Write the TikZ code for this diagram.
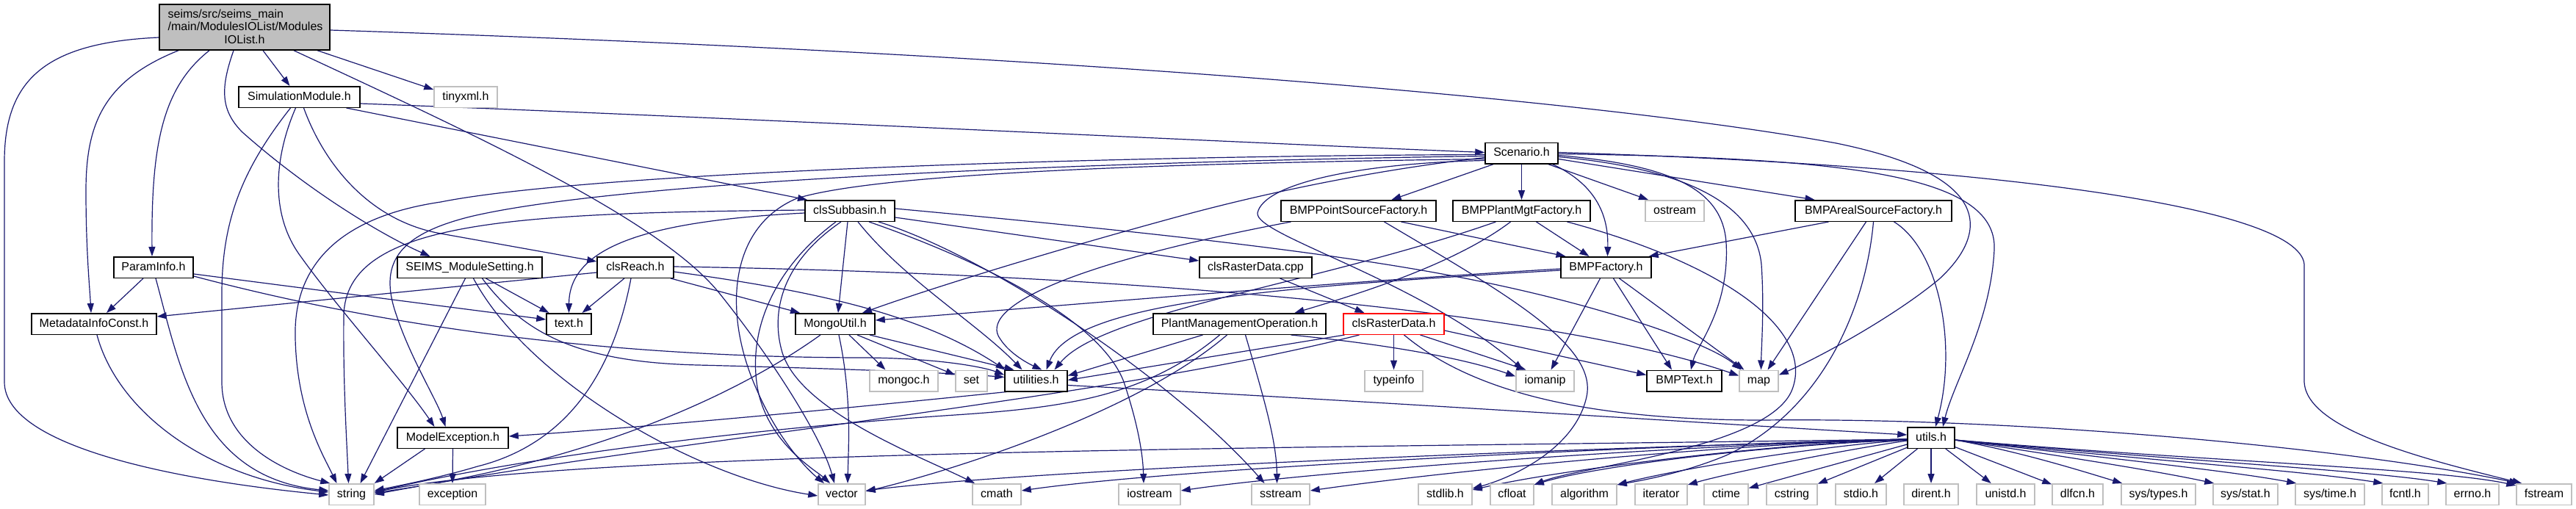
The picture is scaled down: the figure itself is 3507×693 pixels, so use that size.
\documentclass[tikz,border=0pt]{standalone}
\usepackage{fontspec}
\setmainfont{Liberation Sans}
\usetikzlibrary{arrows.meta,backgrounds}
\definecolor{eblue}{HTML}{191970}
\definecolor{gbord}{HTML}{BFBFBF}
\definecolor{mgrey}{HTML}{BFBFBF}
\newcommand\nodefont{\fontsize{16}{19}\selectfont}
\tikzset{
  nbox/.style={rectangle, draw=black, fill=white, line width=1.5pt, inner sep=0pt, minimum height=28.5pt, font=\nodefont, text height=11.5pt, text depth=3.5pt, text=black},
  sbox/.style={nbox, draw=gbord},
  rbox/.style={nbox, draw=red},
  mtext/.style={inner sep=0pt, font=\nodefont, text=black},
  edg/.style={draw=eblue, line width=1.2pt, -{Triangle[length=13pt,width=9pt]}},
}
\begin{document}
\begin{tikzpicture}[x=1pt,y=-1pt]
\useasboundingbox (0,0) rectangle (3507,693);
% ---------- nodes ----------
\node[nbox, fill=mgrey, minimum width=232pt, minimum height=62pt] (main) at (333,37) {};
\node[mtext, anchor=base west] (mainA) at (228.5,24.5) {seims/src/seims\_main};
\node[mtext, anchor=base west] (mainB) at (228.5,42) {/main/ModulesIOList/Modules};
\node[mtext, anchor=base] (mainC) at (333,59.5) {IOList.h};

\node[nbox, minimum width=165pt] (SimMod) at (407.5,132) {SimulationModule.h};
\node[sbox, minimum width=86pt] (tinyxml) at (634,132) {tinyxml.h};
\node[nbox, minimum width=99pt] (Scenario) at (2071.5,208.5) {Scenario.h};
\node[nbox, minimum width=122pt] (clsSubbasin) at (1157,287) {clsSubbasin.h};
\node[nbox, minimum width=211pt] (BMPPoint) at (1849.5,287) {BMPPointSourceFactory.h};
\node[nbox, minimum width=187pt] (BMPPlant) at (2071.5,287) {BMPPlantMgtFactory.h};
\node[sbox, minimum width=80pt] (ostream) at (2280,287) {ostream};
\node[nbox, minimum width=213pt] (BMPAreal) at (2550.5,287) {BMPArealSourceFactory.h};
\node[nbox, minimum width=108pt] (ParamInfo) at (209,364) {ParamInfo.h};
\node[nbox, minimum width=197pt] (SEIMS) at (639.5,364) {SEIMS\_ModuleSetting.h};
\node[nbox, minimum width=104pt] (clsReach) at (865,364) {clsReach.h};
\node[nbox, minimum width=153pt] (clsRasterCpp) at (1709.5,364) {clsRasterData.cpp};
\node[nbox, minimum width=123pt] (BMPFactory) at (2186.5,364) {BMPFactory.h};
\node[nbox, minimum width=170pt] (Metadata) at (128,441) {MetadataInfoConst.h};
\node[nbox, minimum width=61pt] (textH) at (774.5,441) {text.h};
\node[nbox, minimum width=108pt] (MongoUtil) at (1137,441) {MongoUtil.h};
\node[nbox, minimum width=235pt] (PMO) at (1687.5,441) {PlantManagementOperation.h};
\node[rbox, minimum width=137pt] (clsRasterH) at (1897.5,441) {clsRasterData.h};
\node[sbox, minimum width=93pt] (mongoc) at (1230.5,518.5) {mongoc.h};
\node[sbox, minimum width=43pt] (setH) at (1322.5,518.5) {set};
\node[nbox, minimum width=85pt] (utilities) at (1410.5,518.5) {utilities.h};
\node[sbox, minimum width=79pt] (typeinfo) at (1897.5,518.5) {typeinfo};
\node[sbox, minimum width=79pt] (iomanip) at (2103.5,518.5) {iomanip};
\node[nbox, minimum width=102pt] (BMPText) at (2293,518.5) {BMPText.h};
\node[sbox, minimum width=53pt] (mapH) at (2394.5,518.5) {map};
\node[nbox, minimum width=151pt] (ModelException) at (616.5,596) {ModelException.h};
\node[nbox, minimum width=64pt] (utils) at (2629,596) {utils.h};

\node[sbox, minimum width=61pt] (stringH) at (478.5,673) {string};
\node[sbox, minimum width=90pt] (exception) at (616,673) {exception};
\node[sbox, minimum width=64pt] (vectorH) at (1146,673) {vector};
\node[sbox, minimum width=66pt] (cmath) at (1357,673) {cmath};
\node[sbox, minimum width=84pt] (iostream) at (1565,673) {iostream};
\node[sbox, minimum width=79pt] (sstream) at (1743.5,673) {sstream};
\node[sbox, minimum width=73pt] (stdlib) at (1967.5,673) {stdlib.h};
\node[sbox, minimum width=59pt] (cfloat) at (2058.5,673) {cfloat};
\node[sbox, minimum width=88pt] (algorithm) at (2157,673) {algorithm};
\node[sbox, minimum width=71pt] (iterator) at (2261.5,673) {iterator};
\node[sbox, minimum width=60pt] (ctime) at (2350,673) {ctime};
\node[sbox, minimum width=69pt] (cstring) at (2439.5,673) {cstring};
\node[sbox, minimum width=69pt] (stdio) at (2533.5,673) {stdio.h};
\node[sbox, minimum width=74pt] (dirent) at (2629,673) {dirent.h};
\node[sbox, minimum width=79pt] (unistd) at (2730.5,673) {unistd.h};
\node[sbox, minimum width=69pt] (dlfcn) at (2828.5,673) {dlfcn.h};
\node[sbox, minimum width=101pt] (systypes) at (2938.5,673) {sys/types.h};
\node[sbox, minimum width=88pt] (sysstat) at (3057,673) {sys/stat.h};
\node[sbox, minimum width=94pt] (systime) at (3172,673) {sys/time.h};
\node[sbox, minimum width=63pt] (fcntl) at (3274.5,673) {fcntl.h};
\node[sbox, minimum width=72pt] (errno) at (3366,673) {errno.h};
\node[sbox, minimum width=75pt] (fstream) at (3463.5,673) {fstream};

% ---------- edges ----------
\begin{scope}[on background layer]
\fill[white] (0,0) rectangle (3507,693);
% main
\draw[edg] ([yshift=-14pt]main.west) .. controls (60,58) and (6,110) .. (6,220) -- (6,520) .. controls (6,610) and (250,655) .. ([yshift=-1pt]stringH.west);
\draw[edg] ([xshift=-90pt]main.south) .. controls (140,110) and (117,170) .. (117,260) .. controls (117,340) and (122,390) .. ([xshift=-4pt]Metadata.north);
\draw[edg] ([xshift=-48pt]main.south) .. controls (220,120) and (206,200) .. ([xshift=-2pt]ParamInfo.north);
\draw[edg] ([xshift=-15pt]main.south) .. controls (300,120) and (300,150) .. (330,180) .. controls (420,260) and (520,320) .. ([xshift=-54pt]SEIMS.north);
\draw[edg] ([xshift=25pt]main.south) -- ([xshift=-13pt]SimMod.north);
\draw[edg] ([xshift=67pt]main.south) .. controls (650,185) and (900,300) .. (980,400) .. controls (1060,500) and (1120,600) .. ([xshift=-10pt]vectorH.north);
\draw[edg] ([xshift=99pt]main.south) -- ([yshift=10pt]tinyxml.west);
\draw[edg] ([yshift=-4pt]main.east) .. controls (1500,75) and (2200,140) .. (2500,195) .. controls (2720,240) and (2705,320) .. (2640,380) .. controls (2580,430) and (2480,485) .. ([yshift=8pt]mapH.east);
% SimulationModule
\draw[edg] ([yshift=-9pt]SimMod.east) .. controls (1000,160) and (1700,195) .. ([yshift=1pt]Scenario.west);
\draw[edg] ([xshift=64pt]SimMod.south) -- ([xshift=-58pt]clsSubbasin.north);
\draw[edg] ([xshift=6pt]SimMod.south) .. controls (440,220) and (500,300) .. (600,318) -- ([yshift=8pt]clsReach.west);
\draw[edg] ([xshift=-5pt]SimMod.south) .. controls (375,210) and (365,290) .. (410,350) .. controls (460,420) and (550,520) .. ([xshift=-25pt]ModelException.north);
\draw[edg] ([xshift=-12pt]SimMod.south) .. controls (330,230) and (302,300) .. (302,400) -- (302,520) .. controls (302,600) and (380,640) .. ([xshift=2pt]stringH.north west);
% ParamInfo
\draw[edg] ([xshift=-14pt]ParamInfo.south) -- ([xshift=17pt]Metadata.north);
\draw[edg] ([xshift=3pt]ParamInfo.south) .. controls (245,500) and (270,650) .. ([yshift=5pt]stringH.west);
\draw[edg] ([yshift=-9pt]ParamInfo.east) -- ([yshift=6pt]textH.west);
\draw[edg] ([yshift=-12pt]ParamInfo.east) .. controls (580,460) and (900,487) .. (1180,487) .. controls (1280,488) and (1340,500) .. ([yshift=8pt]utilities.west);
% Metadata
\draw[edg] ([xshift=4pt]Metadata.south) .. controls (160,560) and (280,650) .. ([yshift=3pt]stringH.west);
% SEIMS
\draw[edg] ([xshift=22pt]SEIMS.south) -- ([xshift=-27pt]textH.north);
\draw[edg] ([xshift=-6pt]SEIMS.south) -- ([xshift=12pt]stringH.north);
\draw[edg] ([xshift=5pt]SEIMS.south) .. controls (720,520) and (950,650) .. ([yshift=-2pt]vectorH.west);
\draw[edg] ([xshift=17pt]SEIMS.south) .. controls (710,450) and (780,493) .. (950,497) .. controls (1150,502) and (1300,508) .. ([yshift=5pt]utilities.west);
% clsReach
\draw[edg] ([yshift=-7pt]clsReach.west) -- ([yshift=10pt]Metadata.east);
\draw[edg] ([xshift=-15pt]clsReach.south) -- ([xshift=18pt]textH.north);
\draw[edg] ([xshift=-6pt]clsReach.south) .. controls (840,480) and (790,600) .. (650,635) .. controls (600,650) and (540,662) .. ([yshift=5pt]stringH.east);
\draw[edg] ([xshift=48pt]clsReach.south) -- ([xshift=-48pt]MongoUtil.north);
\draw[edg] ([yshift=-6pt]clsReach.east) .. controls (1100,395) and (1250,425) .. ([xshift=-42pt]utilities.north);
\draw[edg] ([yshift=1pt]clsReach.east) .. controls (1500,372) and (2100,420) .. ([yshift=7pt]mapH.west);
% clsSubbasin
\draw[edg] ([yshift=-3pt]clsSubbasin.west) .. controls (900,300) and (775,330) .. (textH.north);
\draw[edg] ([yshift=1pt]clsSubbasin.west) .. controls (700,290) and (470,300) .. (468,430) .. controls (467,520) and (472,600) .. ([xshift=-4pt]stringH.north);
\draw[edg] ([xshift=-3pt]clsSubbasin.south) -- ([xshift=4pt]MongoUtil.north);
\draw[edg] ([xshift=-19pt]clsSubbasin.south) .. controls (1060,360) and (1020,440) .. (1030,520) .. controls (1040,600) and (1110,640) .. ([xshift=-16pt]vectorH.north);
\draw[edg] ([xshift=-12pt]clsSubbasin.south) .. controls (1060,360) and (1050,430) .. (1065,480) .. controls (1090,560) and (1250,620) .. ([xshift=-30pt]cmath.north);
\draw[edg] ([xshift=11pt]clsSubbasin.south) .. controls (1230,380) and (1330,440) .. ([xshift=-19pt]utilities.north);
\draw[edg] ([xshift=26pt]clsSubbasin.south) .. controls (1350,360) and (1500,440) .. (1530,520) .. controls (1550,580) and (1556,620) .. ([xshift=-8pt]iostream.north);
\draw[edg] ([xshift=39pt]clsSubbasin.south) .. controls (1350,350) and (1600,520) .. ([xshift=-22pt]sstream.north);
\draw[edg] ([yshift=-9pt]clsSubbasin.east) -- ([yshift=9pt]clsRasterCpp.west);
\draw[edg] ([yshift=3pt]clsSubbasin.east) .. controls (1500,310) and (1800,340) .. (2000,380) .. controls (2200,420) and (2330,470) .. ([xshift=-24pt]mapH.north);
% MongoUtil
\draw[edg] ([xshift=19pt]MongoUtil.south) -- ([xshift=-25pt]mongoc.north);
\draw[edg] ([xshift=30pt]MongoUtil.south) -- ([yshift=8pt]setH.west);
\draw[edg] ([xshift=47pt]MongoUtil.south) -- ([xshift=-30pt]utilities.north);
\draw[edg] ([xshift=-20pt]MongoUtil.south) .. controls (1000,540) and (800,630) .. ([yshift=2pt]stringH.east);
\draw[edg] ([xshift=5pt]MongoUtil.south) .. controls (1160,540) and (1155,610) .. ([xshift=8pt]vectorH.north);
% PlantManagementOperation
\draw[edg] ([xshift=-50pt]PMO.south) -- ([yshift=7pt]utilities.east);
\draw[edg] ([xshift=-27pt]PMO.south) .. controls (1560,540) and (1450,555) .. (1300,565) .. controls (1000,585) and (700,625) .. ([yshift=3pt]stringH.east);
\draw[edg] ([xshift=-17pt]PMO.south) .. controls (1550,560) and (1300,640) .. ([yshift=4pt]vectorH.east);
\draw[edg] ([xshift=8pt]PMO.south) .. controls (1720,540) and (1738,600) .. ([xshift=-5pt]sstream.north);
\draw[edg] ([xshift=70pt]PMO.south) .. controls (1900,470) and (2000,490) .. ([yshift=6pt]iomanip.west);
% clsRasterData.h
\draw[edg] (clsRasterH.south) -- (typeinfo.north);
\draw[edg] ([xshift=36pt]clsRasterH.south) -- ([xshift=-26pt]iomanip.north);
\draw[edg] ([xshift=-67pt]clsRasterH.south) -- ([yshift=1pt]utilities.east);
\draw[edg] ([xshift=-47pt]clsRasterH.south) .. controls (1500,545) and (900,600) .. (stringH.east);
\draw[edg] ([yshift=-9pt]clsRasterH.east) -- ([yshift=8pt]BMPText.west);
\draw[edg] ([xshift=14pt]clsRasterH.south) .. controls (2000,530) and (2150,572) .. (2400,572) .. controls (2750,568) and (3200,610) .. ([xshift=4pt]fstream.north west);
% clsRasterData.cpp
\draw[edg] ([xshift=33pt]clsRasterCpp.south) -- ([xshift=-40pt]clsRasterH.north);
% BMPPointSourceFactory
\draw[edg] ([xshift=58pt]BMPPoint.south) -- ([xshift=-55pt]BMPFactory.north);
\draw[edg] ([xshift=-92pt]BMPPoint.south) .. controls (1450,360) and (1330,420) .. (1362,462) .. controls (1375,482) and (1400,495) .. ([xshift=8pt]utilities.north);
\draw[edg] ([xshift=35pt]BMPPoint.south) .. controls (2050,400) and (2175,470) .. (2160,540) .. controls (2145,610) and (2060,650) .. ([yshift=8pt]stdlib.east);
% BMPPlantMgtFactory
\draw[edg] ([xshift=20pt]BMPPlant.south) -- ([xshift=-23pt]BMPFactory.north);
\draw[edg] ([xshift=-35pt]BMPPlant.south) .. controls (1800,385) and (1500,425) .. ([xshift=25pt]utilities.north);
\draw[edg] ([xshift=-15pt]BMPPlant.south) .. controls (1980,360) and (1850,400) .. ([xshift=75pt]PMO.north);
\draw[edg] ([xshift=62pt]BMPPlant.south) .. controls (2350,360) and (2470,450) .. (2440,530) .. controls (2410,610) and (2150,635) .. ([yshift=-2pt]cfloat.north east);
% BMPArealSourceFactory
\draw[edg] ([xshift=-61pt]BMPAreal.south) -- ([xshift=-4pt]BMPFactory.north east);
\draw[edg] ([xshift=-10pt]BMPAreal.south) -- ([xshift=12pt]mapH.north);
\draw[edg] (BMPAreal.south) .. controls (2540,420) and (2480,560) .. (2350,620) .. controls (2290,645) and (2230,655) .. ([yshift=-2pt]algorithm.north east);
\draw[edg] ([xshift=28pt]BMPAreal.south) .. controls (2640,340) and (2665,470) .. ([xshift=6pt]utils.north);
% Scenario
\draw[edg] ([xshift=-38pt]Scenario.south) -- ([xshift=45pt]BMPPoint.north);
\draw[edg] (Scenario.south) -- (BMPPlant.north);
\draw[edg] ([xshift=36pt]Scenario.south) -- ([xshift=-36pt]ostream.north);
\draw[edg] ([xshift=42pt]Scenario.south) .. controls (2170,250) and (2190,290) .. ([xshift=2pt]BMPFactory.north);
\draw[edg] ([yshift=-8pt]Scenario.east) -- ([xshift=-80pt]BMPAreal.north);
\draw[edg] ([yshift=-5pt]Scenario.east) .. controls (2300,230) and (2390,280) .. (2398,360) .. controls (2402,420) and (2398,470) .. ([xshift=3pt]mapH.north);
\draw[edg] ([yshift=-3pt]Scenario.east) .. controls (2280,225) and (2345,260) .. (2350,330) .. controls (2355,420) and (2310,470) .. ([xshift=9pt]BMPText.north);
\draw[edg] ([yshift=-1pt]Scenario.east) .. controls (2500,215) and (2720,235) .. (2715,340) .. controls (2710,440) and (2660,520) .. ([xshift=16pt]utils.north);
\draw[edg] ([yshift=1pt]Scenario.east) .. controls (2700,225) and (3130,280) .. (3137,360) -- (3137,520) .. controls (3140,585) and (3300,625) .. ([xshift=8pt]fstream.north west);
\draw[edg] ([yshift=-6pt]Scenario.west) .. controls (1900,228) and (1750,255) .. (1600,296) .. controls (1420,345) and (1260,395) .. ([xshift=37pt]MongoUtil.north);
\draw[edg] ([yshift=-10pt]Scenario.west) .. controls (1850,222) and (1720,250) .. (1712,290) .. controls (1708,320) and (1930,380) .. ([xshift=-30pt]iomanip.north);
\draw[edg] ([yshift=-2pt]Scenario.west) .. controls (1500,212) and (800,235) .. (600,275) .. controls (430,300) and (400,390) .. (402,460) .. controls (404,560) and (440,620) .. ([xshift=-20pt]stringH.north);
\draw[edg] ([yshift=-4pt]Scenario.west) .. controls (1500,220) and (850,245) .. (640,295) .. controls (540,320) and (515,360) .. (540,430) .. controls (560,490) and (595,545) .. ([xshift=-10pt]ModelException.north);
\draw[edg] ([yshift=-8pt]Scenario.west) .. controls (1600,222) and (1200,235) .. (1085,270) .. controls (990,310) and (985,430) .. (1030,530) .. controls (1060,600) and (1100,640) .. ([xshift=-24pt]vectorH.north);
% BMPFactory
\draw[edg] ([yshift=-2pt]BMPFactory.west) .. controls (1800,385) and (1400,420) .. ([yshift=5pt]MongoUtil.east);
\draw[edg] ([yshift=-4pt]BMPFactory.west) .. controls (1750,390) and (1460,410) .. ([xshift=14pt]utilities.north);
\draw[edg] ([xshift=-8pt]BMPFactory.south) -- ([xshift=8pt]iomanip.north);
\draw[edg] ([xshift=10pt]BMPFactory.south) -- ([xshift=-17pt]BMPText.north);
\draw[edg] ([xshift=18pt]BMPFactory.south) -- ([xshift=-20pt]mapH.north);
% ModelException
\draw[edg] ([xshift=-38pt]ModelException.south) -- (stringH.north east);
\draw[edg] (ModelException.south) -- (exception.north);
% utilities
\draw[edg] ([yshift=-6pt]utilities.east) .. controls (1900,548) and (2300,575) .. ([yshift=4pt]utils.west);
\draw[edg] ([xshift=-40pt]utilities.south) .. controls (1150,556) and (900,580) .. ([yshift=2pt]ModelException.east);
% utils, left fan
\draw[edg] ([yshift=-2pt]utils.west) .. controls (1800,610) and (800,612) .. ([yshift=3pt]stringH.east);
\draw[edg] ([yshift=-2pt]utils.west) .. controls (2100,612) and (1400,640) .. ([yshift=5pt]vectorH.east);
\draw[edg] ([yshift=-2pt]utils.west) .. controls (2200,608) and (1600,638) .. ([yshift=5pt]cmath.east);
\draw[edg] ([yshift=-2pt]utils.west) .. controls (2300,606) and (1800,640) .. ([yshift=5pt]iostream.east);
\draw[edg] ([yshift=-2pt]utils.west) .. controls (2350,605) and (1980,640) .. ([yshift=5pt]sstream.east);
\draw[edg] ([yshift=-2pt]utils.west) .. controls (2400,605) and (2120,640) .. ([yshift=6pt]stdlib.east);
\draw[edg] ([yshift=-3pt]utils.west) .. controls (2400,606) and (2170,635) .. ([yshift=-2pt]cfloat.north east);
\draw[edg] ([yshift=-3pt]utils.west) .. controls (2450,610) and (2270,642) .. ([yshift=-2pt]algorithm.north east);
\draw[edg] ([yshift=-4pt]utils.west) .. controls (2500,614) and (2350,645) .. ([yshift=-2pt]iterator.north east);
\draw[edg] (utils) -- (ctime);
\draw[edg] (utils) -- (cstring);
\draw[edg] (utils) -- (stdio);
\draw[edg] (utils) -- (dirent);
\draw[edg] (utils) -- (unistd);
\draw[edg] (utils) -- (dlfcn);
% utils, right fan
\draw[edg] ([yshift=-3pt]utils.east) .. controls (2750,615) and (2830,640) .. ([xshift=2pt]systypes.north west);
\draw[edg] ([yshift=-3pt]utils.east) .. controls (2800,620) and (2930,640) .. ([xshift=2pt]sysstat.north west);
\draw[edg] ([yshift=-3pt]utils.east) .. controls (2850,622) and (3030,640) .. ([xshift=2pt]systime.north west);
\draw[edg] ([yshift=-3pt]utils.east) .. controls (2900,625) and (3130,640) .. ([xshift=2pt]fcntl.north west);
\draw[edg] ([yshift=-3pt]utils.east) .. controls (2950,626) and (3220,640) .. ([xshift=2pt]errno.north west);
\draw[edg] ([yshift=-3pt]utils.east) .. controls (3000,628) and (3320,638) .. ([yshift=-3pt]fstream.north west);
\end{scope}
\end{tikzpicture}
\end{document}
